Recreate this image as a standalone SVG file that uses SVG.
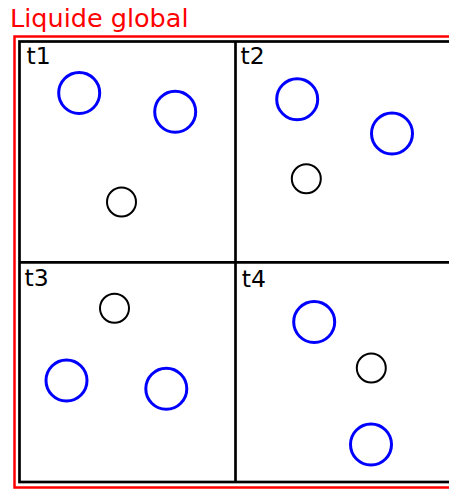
<svg xmlns="http://www.w3.org/2000/svg" width="449" height="489" viewBox="0 0 449 489">
<style>
.lbl{font-family:"DejaVu Sans",sans-serif;font-size:23.5px;fill:#000}
.title{font-family:"DejaVu Sans",sans-serif;font-size:25.5px;fill:#ff0000}
.big{fill:none;stroke:#0000ff;stroke-width:3}
.small{fill:none;stroke:#000;stroke-width:2}
</style>
<rect width="449" height="489" fill="#fff"/>
<g id="global">
<text class="title" x="10" y="27">Liquide global</text>
<rect x="14.5" y="36.5" width="450" height="451" fill="none" stroke="#ff0000" stroke-width="2.5"/>
<rect x="19.5" y="41.5" width="440" height="440.5" fill="none" stroke="#000" stroke-width="2.7"/>
</g>
<g id="grid">
<line x1="235.5" y1="41.5" x2="235.5" y2="482" stroke="#000" stroke-width="2.7"/>
<line x1="19.5" y1="262.3" x2="459" y2="262.3" stroke="#000" stroke-width="2.7"/>
</g>
<g id="t1">
<text class="lbl" x="26.5" y="64">t1</text>
<circle class="big" cx="79.2" cy="93" r="20.5"/>
<circle class="big" cx="175.2" cy="111.7" r="20.5"/>
<circle class="small" cx="121.5" cy="202" r="14.5"/>
</g>
<g id="t2">
<text class="lbl" x="240.5" y="64">t2</text>
<circle class="big" cx="297.2" cy="99.2" r="20.5"/>
<circle class="big" cx="392" cy="133.5" r="20.5"/>
<circle class="small" cx="306.3" cy="178.7" r="14.5"/>
</g>
<g id="t3">
<text class="lbl" x="24.5" y="286">t3</text>
<circle class="small" cx="114.5" cy="308.3" r="14.5"/>
<circle class="big" cx="66.5" cy="380.5" r="20.5"/>
<circle class="big" cx="166.3" cy="388.8" r="20.5"/>
</g>
<g id="t4">
<text class="lbl" x="241.7" y="287">t4</text>
<circle class="big" cx="314.2" cy="322" r="20.5"/>
<circle class="small" cx="371.3" cy="368" r="14.5"/>
<circle class="big" cx="371" cy="444.5" r="20.5"/>
</g>
</svg>
